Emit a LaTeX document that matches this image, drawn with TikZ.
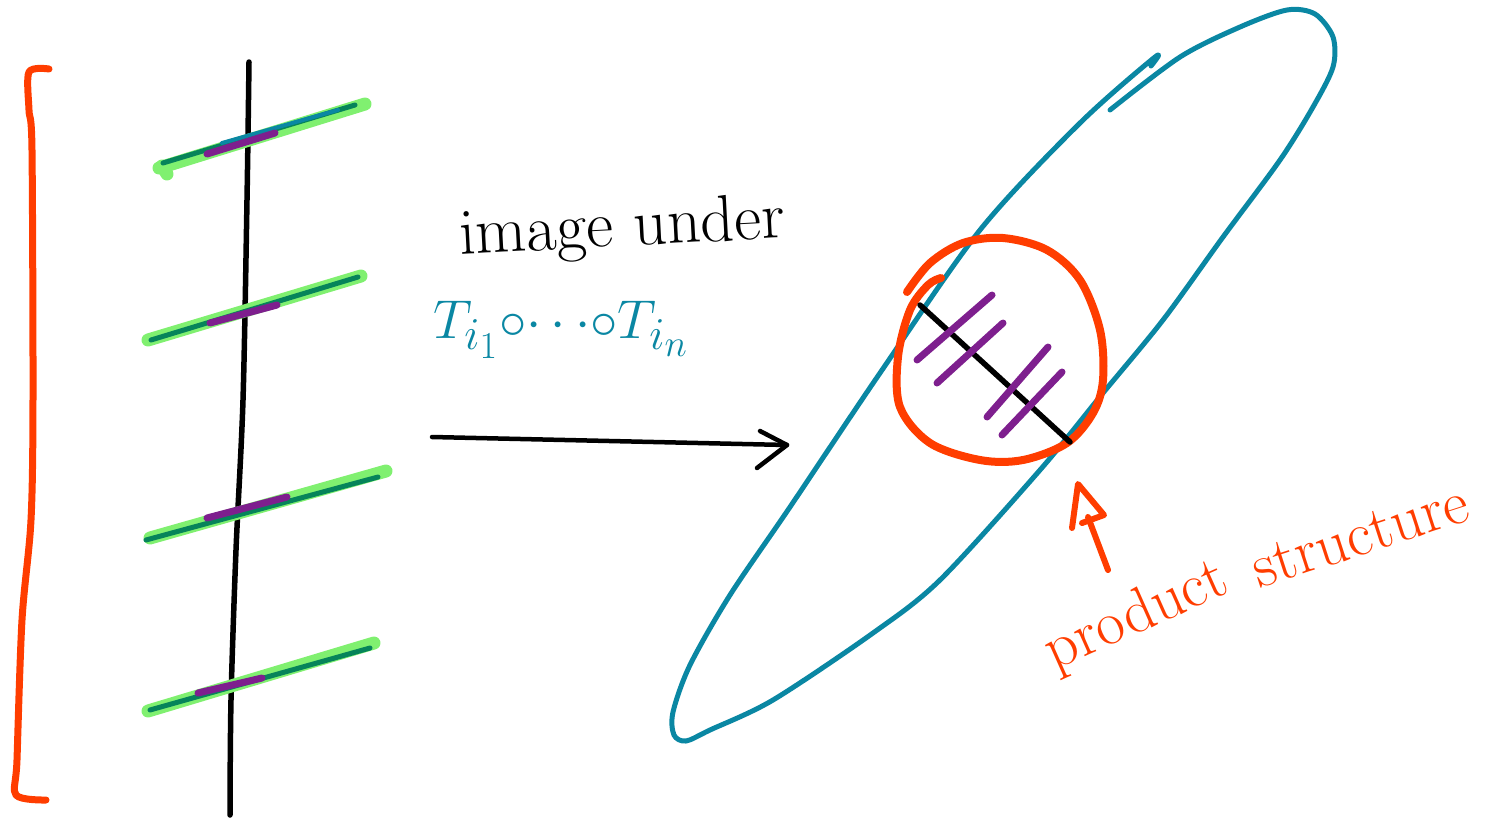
\documentclass[tikz,border=0pt]{standalone}
\usepackage{fontspec}
\usetikzlibrary{arrows.meta}
\definecolor{tealink}{HTML}{0A87A3}
\definecolor{redink}{HTML}{FF3D00}
\definecolor{hlgreen}{HTML}{80F070}
\definecolor{darkgreen}{HTML}{06845A}
\definecolor{purpleink}{HTML}{7E1F8E}
\begin{document}
\begin{tikzpicture}[x=1pt,y=-1pt,line cap=round,line join=round,
  bracketpen/.style={draw=redink,line width=7pt},
  basepen/.style={draw=black,line width=5.5pt},
  highlight/.style={draw=hlgreen,line width=13pt},
  fiberpen/.style={draw=darkgreen,line width=5pt},
  tealpen/.style={draw=tealink,line width=4pt},
  plaque/.style={draw=purpleink,line width=7pt},
  ellipsepen/.style={draw=tealink,line width=5pt},
  circlepen/.style={draw=redink,line width=8pt},
  arrowpen/.style={draw=black,line width=4.5pt},
  redarrow/.style={draw=redink,line width=6pt},
  lbl/.style={inner sep=0pt}]
\useasboundingbox (0,0) rectangle (1501,825);

% red bracket
\draw[bracketpen] plot[smooth,tension=0.5] coordinates {(49,69) (29,72) (29,110) (32,150) (33,400) (31,520) (22,620) (17,760) (16,795) (46,800)};

% base vertical line
\coordinate (btop) at (249,62);
\coordinate (bbot) at (230,815);
\draw[basepen] plot[smooth,tension=0.5] coordinates {(btop) (247,200) (243,400) (236,550) (231,700) (bbot)};

% fibers
\draw[highlight] (159,168) -- (365,104);
\draw[highlight] (162,166) -- (167,174);
\draw[fiberpen] (163,163) -- (355,105);
\draw[tealpen] (222,143) -- (338,110);
\draw[plaque] (207,154) -- (275,133);

\draw[highlight] (148,340) -- (361,276);
\draw[fiberpen] (151,340) -- (358,277);
\draw[plaque] (210,323) -- (277,305);

\draw[highlight] (150,538) -- (386,471);
\draw[fiberpen] (146,540) -- (378,477);
\draw[plaque] (207,518) -- (287,497);

\draw[highlight] (148,711) -- (374,643);
\draw[fiberpen] (150,710) -- (370,648);
\draw[plaque] (198,693) -- (262,678);

% labels
\node[lbl,rotate=3,font=\fontsize{66}{72}\selectfont] (imgunder) at (622,230) {image under};
\node[lbl,text=tealink,font=\Huge,scale=2.2] (maps) at (561,330) {$T_{i_1}{\circ}{\cdots}{\circ}T_{i_n}$};

% main arrow
\coordinate (astart) at (432,437);
\coordinate (aend) at (787,445);
\draw[arrowpen] (astart) -- (aend);
\draw[arrowpen] (760,431) -- (aend) -- (757,468);

% teal ellipse (image)
\draw[ellipsepen] plot[smooth,tension=0.5] coordinates {
(1110,110) (1180,57) (1240,27) (1287,10) (1315,14) (1333,37) (1333,67) (1313,107) (1280,160)
(1223,237) (1163,320) (1103,393) (1040,470) (940,580) (873,633) (773,700) (710,730)
(686,741) (674,735) (673,712) (690,665) (730,595) (790,507) (880,373) (980,230) (1080,123) (1155,57) (1151,66)};

% red circle (product structure region)
\draw[circlepen] plot[smooth,tension=0.55] coordinates {
(907,292) (930,263) (963,243) (1003,238) (1047,250) (1080,280) (1100,330) (1103,380) (1093,413)
(1067,443) (1023,460) (980,460) (930,443) (900,407) (898,357) (910,310) (928,285) (941,278)};

% black segment and purple plaques inside
\coordinate (segA) at (920,305);
\coordinate (segB) at (1070,442);
\draw[basepen] (segA) -- (segB);
\draw[plaque] (917,360) -- (992,295);
\draw[plaque] (937,383) -- (1003,323);
\draw[plaque] (987,417) -- (1048,347);
\draw[plaque] (1002,435) -- (1062,372);

% red arrow and label
\node[lbl,rotate=24,text=redink,font=\fontsize{62}{70}\selectfont] (prod) at (1137,617) {product};
\node[lbl,rotate=18,text=redink,font=\fontsize{62}{70}\selectfont] (struct) at (1360,536) {structure};
\coordinate (rtail) at (1108,570);
\coordinate (rtip) at (1078,484);
\draw[redarrow] (rtail) -- (1088,517);
\draw[redarrow] (1072,528) -- (rtip) -- (1104,515) -- (1082,523);
\end{tikzpicture}
\end{document}
